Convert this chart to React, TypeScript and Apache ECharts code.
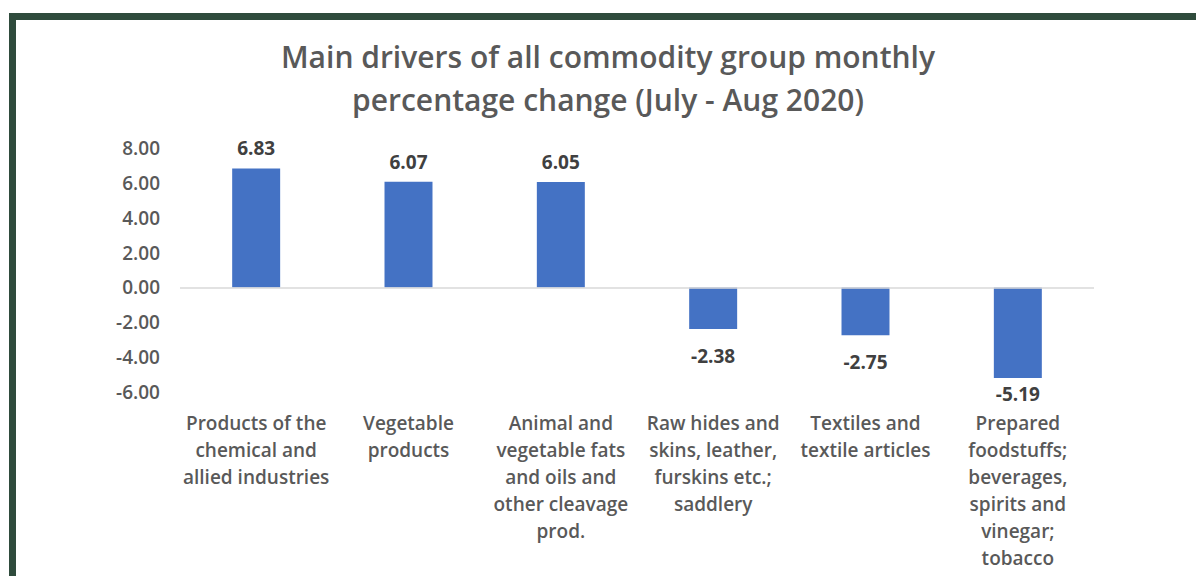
import React, { useEffect, useRef } from "react";
import * as echarts from "echarts";

const titleLines = [
  "Main drivers of all commodity group monthly",
  "percentage change (July - Aug 2020)",
];
const categories = [
  "Products of the\nchemical and\nallied industries",
  "Vegetable\nproducts",
  "Animal and\nvegetable fats\nand oils and\nother cleavage\nprod.",
  "Raw hides and\nskins, leather,\nfurskins etc.;\nsaddlery",
  "Textiles and\ntextile articles",
  "Prepared\nfoodstuffs;\nbeverages,\nspirits and\nvinegar;\ntobacco",
];
const values = [6.83, 6.07, 6.05, -2.38, -2.75, -5.19];
const yMin = -6;
const yMax = 8;
const yStep = 2;

const FONT = "'Open Sans', 'Noto Sans', sans-serif";

export default function App() {
  const ref = useRef<HTMLDivElement>(null);
  useEffect(() => {
    if (!ref.current) return;
    const chart = echarts.init(ref.current, null, { renderer: "svg" });
    const data = values.map((v) => ({
      value: v,
      label: {
        position: v >= 0 ? "top" : "bottom",
        distance: v >= 0 ? 13 : v < -5 ? 9 : 20,
      },
    }));
    chart.setOption({
      animation: false,
      backgroundColor: "#ffffff",
      textStyle: { fontFamily: FONT },
      title: {
        text: titleLines.join("\n"),
        left: 603,
        textAlign: "center",
        top: 30,
        textStyle: {
          fontFamily: FONT,
          fontSize: 30,
          fontWeight: 600,
          color: "#595959",
          lineHeight: 43,
        },
      },
      graphic: [
        { type: "rect", shape: { x: 9, y: 13, width: 1187, height: 7 }, style: { fill: "#2F4B3C" } },
        { type: "rect", shape: { x: 9, y: 13, width: 7, height: 563 }, style: { fill: "#2F4B3C" } },
      ],
      grid: { left: 180, right: 102, top: 148, bottom: 184 },
      xAxis: {
        type: "category",
        data: categories,
        axisLine: { show: false, onZero: false },
        axisTick: { show: false },
        axisLabel: {
          interval: 0,
          margin: 17,
          fontFamily: FONT,
          fontSize: 19,
          fontWeight: 600,
          color: "#595959",
          lineHeight: 27,
          verticalAlign: "top",
        },
      },
      yAxis: {
        type: "value",
        min: yMin,
        max: yMax,
        interval: yStep,
        splitLine: { show: false },
        axisLine: { show: false },
        axisTick: { show: false },
        axisLabel: {
          margin: 20,
          fontFamily: FONT,
          fontSize: 19,
          fontWeight: 600,
          color: "#595959",
          formatter: (v: number) => v.toFixed(2),
        },
      },
      series: [
        {
          type: "bar",
          data,
          barWidth: "31.5%",
          itemStyle: { color: "#4472C4" },
          label: {
            show: true,
            fontFamily: FONT,
            fontSize: 19,
            fontWeight: 700,
            lineHeight: 14,
            color: "#404040",
            formatter: (p: any) => Number(p.value).toFixed(2),
          },
          markLine: {
            silent: true,
            symbol: "none",
            label: { show: false },
            lineStyle: { color: "#D9D9D9", width: 1.5, type: "solid" },
            data: [{ yAxis: 0 }],
          },
        },
      ],
    });
    return () => chart.dispose();
  }, []);
  return (
    <div
      ref={ref}
      style={{ position: "fixed", left: 0, top: 0, width: 1196, height: 576 }}
    />
  );
}
